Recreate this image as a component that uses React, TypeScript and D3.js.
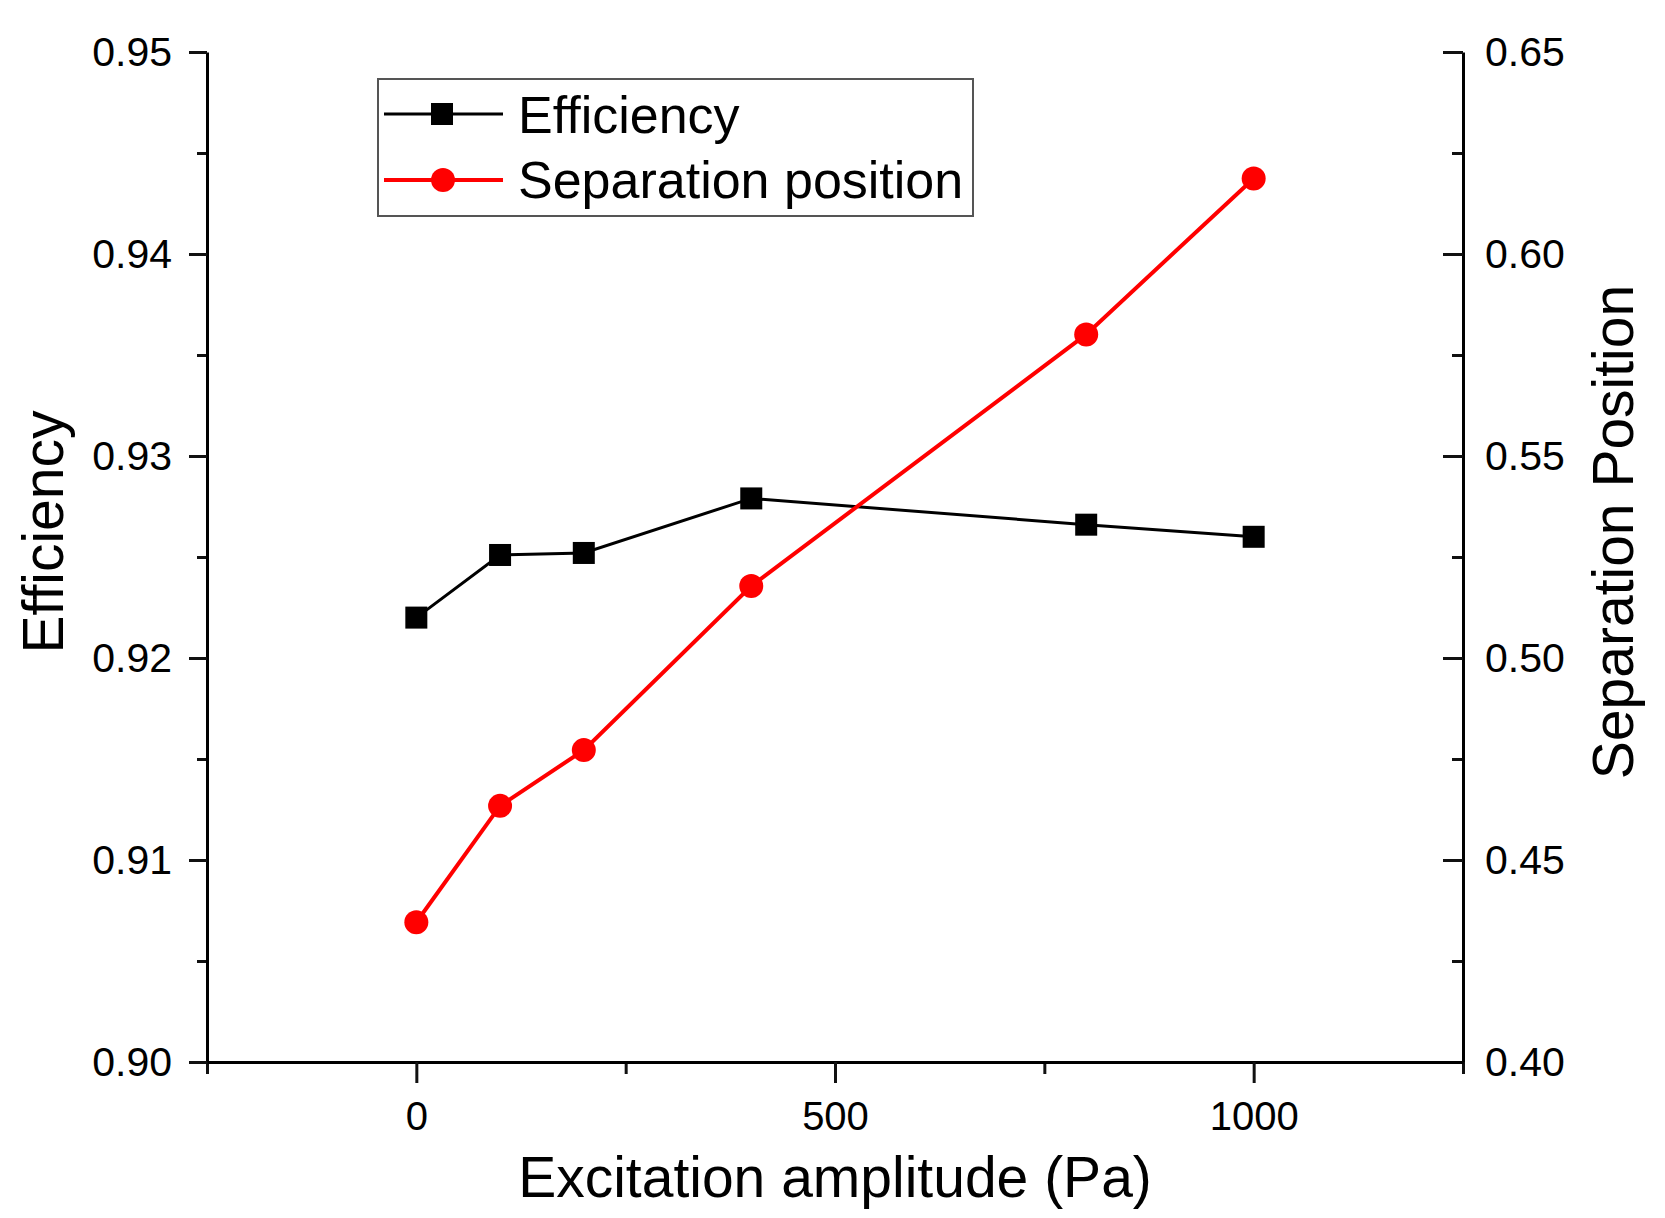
import * as d3 from "d3";

/** data */
const amplitudes = [0, 100, 200, 400, 800, 1000];
const efficiency = [0.922, 0.9251, 0.9252, 0.9279, 0.9266, 0.926];
const separation = [0.4346, 0.4634, 0.4772, 0.5178, 0.5801, 0.6187];

/** tick values */
const xMajor = [0, 500, 1000];
const xMinor = [-250, 250, 750, 1250];
const leftMajor = [0.9, 0.91, 0.92, 0.93, 0.94, 0.95];
const leftMinor = [0.905, 0.915, 0.925, 0.935, 0.945];
const rightMajor = [0.4, 0.45, 0.5, 0.55, 0.6, 0.65];
const rightMinor = [0.425, 0.475, 0.525, 0.575, 0.625];

const seriesNames = ["Efficiency", "Separation position"];

/** svg dimensions */
const width = 1665;
const height = 1218;
const margin = { top: 52, right: 202, bottom: 156, left: 207 };
const font = "'Liberation Sans', Arial, sans-serif";

const App = () => {
  const x = d3
    .scaleLinear()
    .domain([-250, 1250])
    .range([margin.left, width - margin.right]);
  const yLeft = d3
    .scaleLinear()
    .domain([0.9, 0.95])
    .range([height - margin.bottom, margin.top]);
  const yRight = d3
    .scaleLinear()
    .domain([0.4, 0.65])
    .range([height - margin.bottom, margin.top]);

  const effLine = d3
    .line<number>()
    .x((_, i) => x(amplitudes[i]))
    .y((d) => yLeft(d));
  const sepLine = d3
    .line<number>()
    .x((_, i) => x(amplitudes[i]))
    .y((d) => yRight(d));

  // draws an axis into a <g> and applies the Origin-like styling
  const axisRef =
    (axis: d3.Axis<d3.NumberValue>, fontSize: number, keepDomain: boolean) =>
    (element: SVGGElement | null) => {
      if (!element) return;
      const g = d3.select(element);
      g.selectAll("*").remove();
      axis(g);
      g.attr("font-family", font).attr("font-size", fontSize);
      g.selectAll("line").attr("stroke", "#111").attr("stroke-width", 3);
      g.selectAll("text").attr("fill", "#000");
      if (keepDomain) {
        g.select(".domain").attr("stroke", "#000").attr("stroke-width", 3);
      } else {
        g.select(".domain").remove();
      }
    };

  const bottomY = height - margin.bottom;
  const rightX = width - margin.right;

  return (
    <svg
      width={width}
      height={height}
      viewBox={[0, 0, width, height].join(" ")}
      style={{ position: "absolute", left: 0, top: 0, background: "#fff" }}
    >
      <rect x={0} y={0} width={width} height={height} fill="#fff" />

      {/* left axis */}
      <g
        transform={`translate(${margin.left},0)`}
        ref={axisRef(
          d3.axisLeft(yLeft).tickValues(leftMinor).tickSize(10).tickSizeOuter(0).tickFormat(() => ""),
          41,
          false
        )}
      />
      <g
        transform={`translate(${margin.left},0)`}
        ref={axisRef(
          d3
            .axisLeft(yLeft)
            .tickValues(leftMajor)
            .tickSize(18)
            .tickSizeOuter(0)
            .tickPadding(17)
            .tickFormat((d) => d3.format(".2f")(d as number)),
          41,
          true
        )}
      />

      {/* right axis, ticks pointing inward */}
      <g
        transform={`translate(${rightX},0)`}
        ref={axisRef(
          d3.axisRight(yRight).tickValues(rightMinor).tickSize(-11).tickSizeOuter(0).tickFormat(() => ""),
          41,
          false
        )}
      />
      <g
        transform={`translate(${rightX},0)`}
        ref={axisRef(
          d3
            .axisRight(yRight)
            .tickValues(rightMajor)
            .tickSizeInner(-20)
            .tickSizeOuter(0)
            .tickPadding(22)
            .tickFormat((d) => d3.format(".2f")(d as number)),
          41,
          true
        )}
      />

      {/* bottom axis */}
      <g
        transform={`translate(0,${bottomY})`}
        ref={axisRef(
          d3.axisBottom(x).tickValues(xMinor).tickSize(12).tickSizeOuter(0).tickFormat(() => ""),
          40,
          false
        )}
      />
      <g
        transform={`translate(0,${bottomY})`}
        ref={axisRef(
          d3
            .axisBottom(x)
            .tickValues(xMajor)
            .tickSize(21)
            .tickSizeOuter(0)
            .tickPadding(19)
            .tickFormat((d) => String(d)),
          40,
          true
        )}
      />

      {/* axis titles */}
      <text
        x={(margin.left + rightX) / 2}
        y={1197}
        textAnchor="middle"
        fontFamily={font}
        fontSize={57}
      >
        Excitation amplitude (Pa)
      </text>
      <text
        transform={`translate(63, 532) rotate(-90)`}
        textAnchor="middle"
        fontFamily={font}
        fontSize={57}
      >
        Efficiency
      </text>
      <text
        transform={`translate(1633, 532) rotate(-90)`}
        textAnchor="middle"
        fontFamily={font}
        fontSize={57}
      >
        Separation Position
      </text>

      {/* series */}
      <path d={effLine(efficiency) ?? ""} fill="none" stroke="#000" strokeWidth={3} />
      {efficiency.map((v, i) => (
        <rect
          key={`e${i}`}
          x={x(amplitudes[i]) - 11}
          y={yLeft(v) - 11}
          width={22}
          height={22}
          fill="#000"
        />
      ))}
      <path d={sepLine(separation) ?? ""} fill="none" stroke="#ff0000" strokeWidth={4} />
      {separation.map((v, i) => (
        <circle key={`s${i}`} cx={x(amplitudes[i])} cy={yRight(v)} r={12} fill="#ff0000" />
      ))}

      {/* legend */}
      <g fontFamily={font} fontSize={52}>
        <rect x={378} y={79} width={595} height={137} fill="#fff" stroke="#555" strokeWidth={2} />
        <line x1={384} x2={503} y1={114} y2={114} stroke="#000" strokeWidth={3} />
        <rect x={431} y={103} width={22} height={22} fill="#000" />
        <text x={518} y={133}>
          {seriesNames[0]}
        </text>
        <line x1={384} x2={503} y1={180} y2={180} stroke="#ff0000" strokeWidth={4} />
        <circle cx={443} cy={180} r={12} fill="#ff0000" />
        <text x={518} y={198}>
          {seriesNames[1]}
        </text>
      </g>
    </svg>
  );
};

export default App;
